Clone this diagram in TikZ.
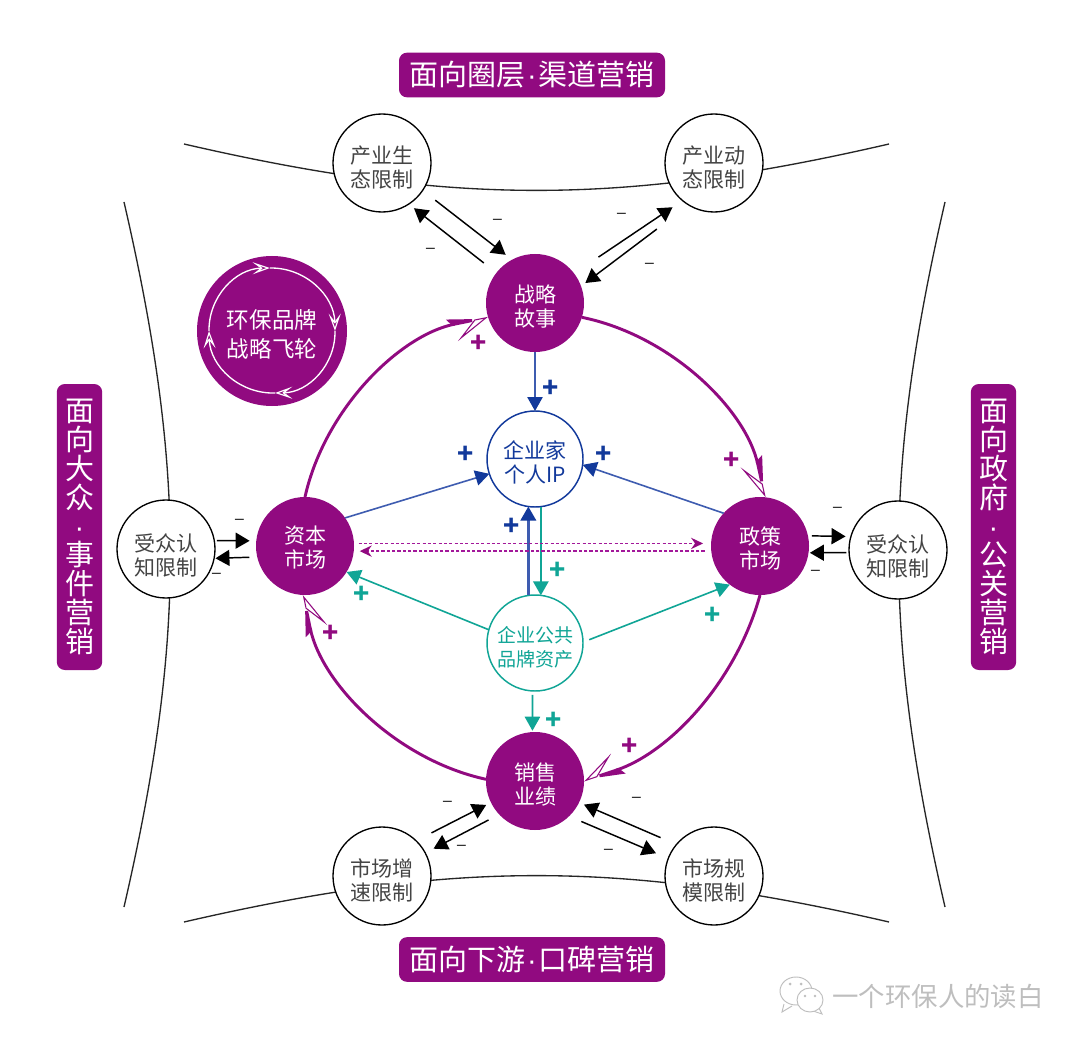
\documentclass[tikz,border=0pt]{standalone}
\usepackage{fontspec}
\setmainfont{Noto Sans CJK SC}
\newfontfamily\lat{Liberation Sans}
\usetikzlibrary{arrows.meta,shapes.geometric}
\definecolor{pur}{HTML}{910A80}
\definecolor{dshc}{HTML}{A3189A}
\definecolor{blu}{HTML}{12399B}
\definecolor{blul}{HTML}{3E5CB0}
\definecolor{tea}{HTML}{10A596}
\definecolor{txt}{HTML}{444444}
\definecolor{wm}{HTML}{BEBEBE}
\newcommand{\fsz}[2]{\fontsize{#1}{#2}\selectfont}
\newcommand{\lf}[1]{\rule{0pt}{#1pt}}
\newcommand{\dotm}{\kern1.5pt{\lat·}\kern1.5pt}
\tikzset{
  circbase/.style={circle,inner sep=0pt,outer sep=0pt,minimum size=73.5pt,align=center},
  fillc/.style={circbase,fill=pur,text=white,font=\fsz{15.75pt}{18.3pt}},
  limc/.style={circbase,draw=black,line width=1pt,fill=white,text=txt,font=\fsz{15.75pt}{18.3pt}},
  ipc/.style={circbase,minimum size=72pt,draw=blu,line width=1.1pt,fill=white,text=blu,font=\fsz{15.75pt}{18.3pt}},
  pubc/.style={circbase,minimum size=72pt,draw=tea,line width=1.1pt,fill=white,text=tea,font=\fsz{14.25pt}{18pt}},
  banner/.style={rounded corners=6pt,fill=pur,text=white,inner sep=0pt,outer sep=0pt,align=center},
  thin curve/.style={line width=1pt,black!85},
  loopb/.style={bend left=#1,looseness=.9},
  loop open/.style={line width=.1pt,white,-{Stealth[harpoon,swap,length=25pt,width=26pt,inset=15pt,open,color=pur,fill=white,line width=.8pt]}},
  loop solid/.style={line width=2.2pt,pur,-{Stealth[harpoon,length=25pt,width=9pt,inset=3pt]}},
  blk/.style={line width=1.1pt,black,-{Triangle[length=10.5pt,width=12pt]}},
  bluar/.style={line width=1.2pt,blul,-{Triangle[length=10.5pt,width=11.5pt,color=blu]}},
  teaar/.style={line width=1.2pt,tea,-{Triangle[length=10.5pt,width=11.5pt]}},
  dsh/.style={line width=1pt,dshc,dash pattern=on 2.4pt off 1.6pt,-{Stealth[length=9pt,width=8.5pt,inset=3pt,color=pur]}},
  ring/.style={line width=1pt,white,-{Stealth[length=13pt,width=9pt,inset=6pt,open,fill=pur,line width=.9pt]}},
  pl/.style={font=\bfseries\fsz{20pt}{20pt},inner sep=0pt},
  mn/.style={font=\fsz{15pt}{15pt},inner sep=0pt,text=black!80},
}
\begin{document}
\begin{tikzpicture}[x=.75pt,y=-.75pt]
\useasboundingbox (0,0) rectangle (1080,1044);
\fill[white] (0,0) rectangle (1080,1044);
% outer curves
\coordinate (tl) at (184,144); \coordinate (tr) at (889,144);
\coordinate (bl) at (184,922); \coordinate (br) at (889,922);
\coordinate (lt) at (124,202); \coordinate (lb) at (124,907);
\coordinate (rt) at (945,202); \coordinate (rb) at (945,907);
\draw[thin curve] (tl) to[bend right=13] (tr);
\draw[thin curve] (bl) to[bend left=13] (br);
\draw[thin curve] (lt) to[bend left=13] (lb);
\draw[thin curve] (rt) to[bend right=13] (rb);
% circles
\node[fillc] (str) at (535,303) {\lf{18.5}战略\\故事};
\node[fillc] (sal) at (535,781) {\lf{18.5}销售\\业绩};
\node[fillc] (cap) at (305,546) {\lf{15.5}资本\\市场};
\node[fillc] (pol) at (760,546) {\lf{17}政策\\市场};
\node[ipc] (ip) at (535,459) {\lf{18.5}企业家\\个人IP};
\node[pubc] (pub) at (535,643) {\lf{18.5}企业公共\\品牌资产};
\node[limc] (lim1) at (382,163) {\lf{20}产业生\\态限制};
\node[limc] (lim2) at (714,163) {\lf{20}产业动\\态限制};
\node[limc] (lim3) at (382,876) {\lf{20}市场增\\速限制};
\node[limc] (lim4) at (714,876) {\lf{20}市场规\\模限制};
\node[limc] (audL) at (166,549) {\lf{23}受众认\\知限制};
\node[limc] (audR) at (898,550) {\lf{23}受众认\\知限制};
% flywheel
\node[circle,fill=pur,inner sep=0pt,minimum size=112.5pt,text=white,align=center,font=\fsz{16.9pt}{22pt}] (fw) at (272,331) {\lf{19.5}环保品牌\\战略飞轮};
\coordinate (ft) at (270,268); \coordinate (fr) at (335,331);
\coordinate (fb) at (275,393); \coordinate (fl) at (209,331);
\draw[ring] (fl) to[bend left=45] (ft);
\draw[ring] (ft) to[bend left=45] (fr);
\draw[ring] (fr) to[bend left=45] (fb);
\draw[ring] (fb) to[bend left=45] (fl);
% big loop: each arc is drawn twice for its half-open head
\draw[loop open] (cap.90) to[loopb=33] (str.197);
\draw[loop solid] (cap.90) to[loopb=33] (str.197);
\draw[loop open] (str.-17) to[loopb=33] (pol.84);
\draw[loop solid] (str.-17) to[loopb=33] (pol.84);
\draw[loop open] (pol.-90) to[loopb=28] (sal.0);
\draw[loop solid] (pol.-90) to[loopb=28] (sal.0);
\draw[loop open] (sal.178) to[loopb=33] (cap.-92);
\draw[loop solid] (sal.178) to[loopb=33] (cap.-92);
% blue
\draw[bluar] (str.-90) -- (ip.90);
\draw[bluar] (cap.35) -- (ip.198);
\draw[bluar] (pol.138) -- (ip.-7);
\draw[bluar,line width=1.9pt] (pub.98) -- (ip.262);
% teal
\draw[teaar,line width=1.4pt] (ip.-83) -- (pub.83);
\draw[teaar] (pub.164) -- (cap.-32);
\draw[teaar,shorten <=5pt] (pub.1) -- (pol.232);
\draw[teaar,shorten <=3pt,shorten >=1pt] (pub.-93) -- (sal.93);
% dashed
\draw[dsh,shorten <=3.5pt,shorten >=6pt] (cap.3) -- (pol.177);
\draw[dsh,shorten <=5pt,shorten >=4.5pt] (pol.186) -- (cap.-6);
% black
\draw[blk,shorten <=12pt,shorten >=6pt] (lim1.-34) -- (str.118);
\draw[blk,shorten <=12pt,shorten >=5pt] (str.142) -- (lim1.-57);
\draw[blk,shorten <=22pt,shorten >=9pt] (str.37) -- (lim2.230);
\draw[blk,shorten <=30pt,shorten >=4pt] (lim2.239) -- (str.20);
\draw[blk,shorten <=13pt,shorten >=4pt] (lim3.46) -- (sal.206);
\draw[blk,shorten <=9pt,shorten >=7pt] (sal.223) -- (lim3.28);
\draw[blk,shorten <=13pt,shorten >=4pt] (lim4.140) -- (sal.-26);
\draw[blk,shorten <=10pt,shorten >=10pt] (sal.-46) -- (lim4.159);
\draw[blk,shorten <=2pt,shorten >=5pt] (audL.10) -- (cap.174);
\draw[blk,shorten <=6pt,shorten >=1pt] (cap.193) -- (audL.-11);
\draw[blk,shorten <=3pt,shorten >=4pt] (pol.12) -- (audR.164);
\draw[blk,shorten <=2pt,shorten >=1pt] (audR.183) -- (pol.-8);
% plus signs
\node[pl,text=blu] (pa) at (551,389) {+};
\node[pl,text=blu] (pb) at (466,455) {+};
\node[pl,text=blu] (pc) at (604,455) {+};
\node[pl,text=blu] (pd) at (512,527) {+};
\node[pl,text=tea] (pe) at (558,571) {+};
\node[pl,text=tea] (pf) at (362,595) {+};
\node[pl,text=tea] (pg) at (713,616) {+};
\node[pl,text=tea] (ph) at (554,721) {+};
\node[pl,text=pur] (pi) at (479,344) {+};
\node[pl,text=pur] (pj) at (732,461) {+};
\node[pl,text=pur] (pk) at (630,747) {+};
\node[pl,text=pur] (pm) at (331,634) {+};
% minus signs
\node[mn] (m1) at (498,222) {–};
\node[mn] (m2) at (431,251) {–};
\node[mn] (m3) at (622,216) {–};
\node[mn] (m4) at (650,266) {–};
\node[mn] (m5) at (448,804) {–};
\node[mn] (m6) at (462,848) {–};
\node[mn] (m7) at (637,800) {–};
\node[mn] (m8) at (609,852) {–};
\node[mn] (m9) at (240,522) {–};
\node[mn] (m10) at (217,576) {–};
\node[mn] (m11) at (838,510) {–};
\node[mn] (m12) at (816,573) {–};
% banners
\node[banner,minimum width=199.5pt,minimum height=33.5pt,font=\fsz{21.75pt}{22pt}] (bt) at (532,75) {面向圈层\dotm 渠道营销};
\node[banner,minimum width=199.5pt,minimum height=33.5pt,font=\fsz{21.75pt}{22pt}] (bb) at (532,959.5) {面向下游\dotm 口碑营销};
\node[banner,minimum width=34pt,minimum height=214.5pt,font=\fsz{21.75pt}{21.6pt}] (bl2) at (79.5,527) {面\\向\\大\\众\\{\lat·}\\事\\件\\营\\销};
\node[banner,minimum width=34pt,minimum height=214.5pt,font=\fsz{21.75pt}{21.6pt}] (br2) at (993.5,527) {面\\向\\政\\府\\{\lat·}\\公\\关\\营\\销};
% watermark
\node[text=wm,inner sep=0pt,font=\fsz{19.8pt}{20pt}] (wmk) at (938,996) {一个环保人的读白};
\draw[wm,line width=.7pt,fill=white] (784,1004) -- (782,1012) -- (792,1006);
\draw[wm,line width=.7pt,fill=white] (796,991) ellipse (16 and 14);
\draw[wm,line width=.7pt,fill=white] (819,1008) -- (822,1014) -- (813,1011);
\draw[wm,line width=.7pt,fill=white] (810,1000) ellipse (13 and 12);
\fill[wm] (790,984) circle (1.5) (801,984) circle (1.5) (805,996) circle (1.3) (815,996) circle (1.3);
\end{tikzpicture}
\end{document}
